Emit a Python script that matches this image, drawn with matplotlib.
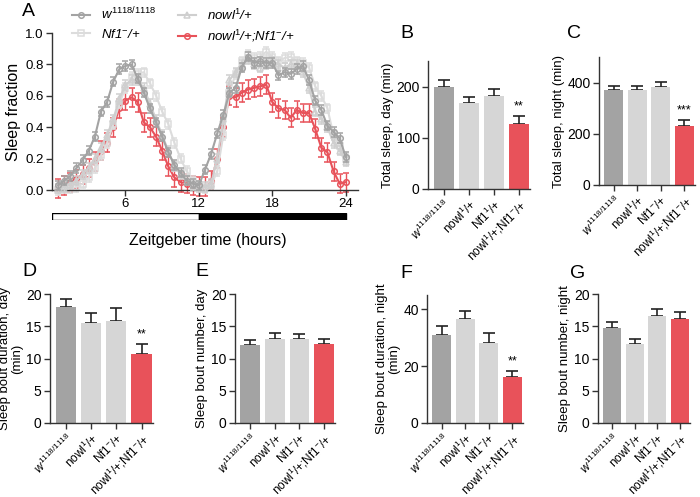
import numpy as np
import matplotlib
matplotlib.use("Agg")
import matplotlib.pyplot as plt

plt.rcParams['font.family'] = ['Liberation Sans', 'DejaVu Sans']
plt.rcParams['mathtext.fontset'] = 'custom'
plt.rcParams['mathtext.rm'] = 'Liberation Sans'
plt.rcParams['mathtext.it'] = 'Liberation Sans:italic'
plt.rcParams['axes.linewidth'] = 1.0

# ---- données du panneau A (fraction de sommeil, pas de 30 min) ----
zt = np.arange(1, 49) * 0.5

w1118 = [0.03, 0.06, 0.09, 0.14, 0.19, 0.25, 0.34, 0.50, 0.56, 0.69, 0.77, 0.79,
         0.80, 0.71, 0.62, 0.52, 0.43, 0.34, 0.24, 0.16, 0.11, 0.06, 0.04, 0.03,
         0.13, 0.23, 0.36, 0.48, 0.62, 0.65, 0.78, 0.85, 0.81, 0.82, 0.81, 0.81,
         0.73, 0.75, 0.74, 0.77, 0.79, 0.70, 0.57, 0.51, 0.41, 0.37, 0.33, 0.21]
nowl = [0.01, 0.02, 0.04, 0.06, 0.10, 0.14, 0.20, 0.27, 0.35, 0.45, 0.58, 0.67,
        0.70, 0.70, 0.65, 0.55, 0.45, 0.35, 0.25, 0.15, 0.10, 0.06, 0.03, 0.02,
        0.02, 0.04, 0.20, 0.45, 0.70, 0.75, 0.80, 0.83, 0.80, 0.78, 0.80, 0.82,
        0.80, 0.78, 0.80, 0.80, 0.75, 0.65, 0.50, 0.45, 0.40, 0.30, 0.25, 0.18]
nf1 = [0.00, 0.01, 0.01, 0.02, 0.04, 0.08, 0.14, 0.22, 0.30, 0.42, 0.55, 0.65,
       0.72, 0.74, 0.75, 0.68, 0.60, 0.50, 0.42, 0.30, 0.20, 0.12, 0.06, 0.03,
       0.01, 0.03, 0.12, 0.35, 0.62, 0.74, 0.82, 0.86, 0.84, 0.85, 0.88, 0.85,
       0.82, 0.84, 0.85, 0.82, 0.81, 0.78, 0.66, 0.60, 0.52, 0.35, 0.28, 0.20]
double = [0.01, 0.03, 0.05, 0.07, 0.10, 0.14, 0.18, 0.25, 0.30, 0.40, 0.52, 0.57,
          0.59, 0.56, 0.43, 0.40, 0.34, 0.25, 0.15, 0.08, 0.05, 0.04, 0.03, 0.02,
          0.02, 0.06, 0.20, 0.40, 0.60, 0.59, 0.62, 0.64, 0.65, 0.66, 0.67, 0.56,
          0.52, 0.51, 0.46, 0.51, 0.49, 0.49, 0.39, 0.27, 0.24, 0.12, 0.04, 0.05]
err_gray = 0.03
err_red = 0.06

ld_starts = [0, 12]
ld_widths = [12, 12]
ld_colors = ['white', 'black']

# ---- données des histogrammes ----
genos = [r'$w^{1118/1118}$', r'nowl$^{1}$/+', r'Nf1$^{-}$/+', r'nowl$^{1}$/+;Nf1$^{-}$/+']
genos_b = [r'$w^{1118/1118}$', r'nowl$^{1}$/+', r'Nf1$^{1}$/+', r'nowl$^{1}$/+;Nf1$^{-}$/+']

sleep_day = [200, 168, 181, 127]
sleep_day_err = [12, 12, 15, 16]
sleep_night = [370, 370, 382, 230]
sleep_night_err = [15, 15, 22, 22]
bout_dur_day = [18.0, 15.5, 15.8, 10.7]
bout_dur_day_err = [1.3, 1.6, 2.0, 1.5]
bout_num_day = [12.1, 13.0, 13.0, 12.3]
bout_num_day_err = [0.7, 1.0, 0.8, 0.8]
bout_dur_night = [31.0, 36.5, 28.0, 16.0]
bout_dur_night_err = [3.0, 3.0, 3.5, 2.3]
bout_num_night = [14.8, 12.3, 16.6, 16.2]
bout_num_night_err = [0.8, 0.7, 1.0, 1.0]

dark = '#a3a3a3'
light = '#d6d6d6'
red = '#e8525a'
bar_colors = [dark, light, light, red]

fig = plt.figure(figsize=(7, 4.97), dpi=100)


def fig_axes(x0, y0, x1, y1):
    # coordonnées en pixels (origine en haut à gauche)
    W, H = 700, 497
    return fig.add_axes([x0 / W, 1 - y1 / H, (x1 - x0) / W, (y1 - y0) / H])


def style(ax, size):
    for s in ['top', 'right']:
        ax.spines[s].set_visible(False)
    for s in ['left', 'bottom']:
        ax.spines[s].set_color('#333333')
    ax.tick_params(direction='out', length=4, width=1, labelsize=size,
                   colors='#333333', labelcolor='black', pad=2)


# ---- panneau A ----
axA = fig_axes(52, 33, 358, 190)
style(axA, 9.5)
series = [
    (w1118, dark, 'o', r'$w^{1118/1118}$', err_gray, 4),
    (nf1, '#dcdcdc', 's', r'Nf1$^{-}$/+', err_gray, 2),
    (nowl, '#cfcfcf', '^', r'nowl$^{1}$/+', err_gray, 3),
    (double, red, 'o', r'nowl$^{1}$/+;Nf1$^{-}$/+', err_red, 1),
]
handles = []
labels = []
for vals, col, mk, lab, e, z in series:
    h = axA.errorbar(zt, vals, yerr=e, color=col, marker=mk, markersize=4,
                     markerfacecolor='none', markeredgewidth=1.1, lw=1.5,
                     elinewidth=1.0, capsize=2, zorder=z, clip_on=False)
    handles.append(h.lines[0])
    labels.append(lab)
axA.set_xlim(0, 25)
axA.set_ylim(0, 1.0)
axA.set_xticks([6, 12, 18, 24])
axA.set_yticks(np.arange(0, 1.01, 0.2))
axA.yaxis.set_major_formatter(matplotlib.ticker.FormatStrFormatter('%.1f'))
axA.set_ylabel('Sleep fraction', fontsize=11.5, labelpad=3)
fig.legend(handles, labels, ncol=2, loc='upper left',
           bbox_to_anchor=(60 / 700, 1.012), frameon=False,
           handlelength=1.4, handletextpad=0.8, columnspacing=1.6,
           labelspacing=0.4, prop={'style': 'italic', 'size': 9.5})
plt.rcParams['mathtext.default'] = 'it'

# barre lumière / obscurité
axLD = fig_axes(52, 213, 358, 220)
axLD.barh(0, ld_widths, left=ld_starts, height=1, color=ld_colors,
          edgecolor='black', linewidth=1)
axLD.set_xlim(0, 25)
axLD.set_ylim(-0.5, 0.5)
axLD.axis('off')
fig.text(208 / 700, 1 - 240 / 497, 'Zeitgeber time (hours)', fontsize=11.5,
         ha='center', va='center')
fig.text(22 / 700, 1 - 12 / 497, 'A', fontsize=14, ha='left', va='center')


# ---- histogrammes ----
def bar_panel(box, vals, errs, ylim, yticks, ylabel, letter, letter_xy,
              labels, star=None):
    ax = fig_axes(*box)
    style(ax, 10)
    x = np.arange(len(vals))
    ax.bar(x, vals, width=0.8, color=bar_colors, zorder=2)
    ax.errorbar(x, vals, yerr=[np.zeros(len(errs)), errs], fmt='none',
                ecolor='#222222', elinewidth=1.2, capsize=4.5, capthick=1.2,
                zorder=1)
    ax.set_xlim(-0.62, 3.45)
    ax.set_ylim(*ylim)
    ax.set_yticks(yticks)
    ax.set_xticks(x)
    ax.set_xticklabels(labels, rotation=45, ha='right', rotation_mode='anchor',
                       fontsize=8.5, fontstyle='normal')
    ax.set_ylabel(ylabel, fontsize=9.5, linespacing=1.05, labelpad=2)
    if star:
        ax.text(3, vals[3] + errs[3] + ylim[1] * 0.03, star, ha='center',
                va='bottom', fontsize=9)
    fig.text(letter_xy[0] / 700, 1 - letter_xy[1] / 497, letter, fontsize=14,
             ha='left', va='center')
    return ax


bar_panel((428, 61, 530, 189), sleep_day, sleep_day_err, (0, 250),
          [0, 100, 200], 'Total sleep, day (min)', 'B', (400, 34), genos_b, '**')
bar_panel((599, 57, 695, 185), sleep_night, sleep_night_err, (0, 500),
          [0, 200, 400], 'Total sleep, night (min)', 'C', (567, 34), genos, '***')
bar_panel((50, 294, 153, 423), bout_dur_day, bout_dur_day_err, (0, 20),
          [0, 5, 10, 15, 20], 'Sleep bout duration, day\n(min)', 'D', (22, 272),
          genos, '**')
bar_panel((235, 294, 335, 423), bout_num_day, bout_num_day_err, (0, 20),
          [0, 5, 10, 15, 20], 'Sleep bout number, day', 'E', (195, 272), genos)
bar_panel((427, 295, 523, 423), bout_dur_night, bout_dur_night_err, (0, 45),
          [0, 20, 40], 'Sleep bout duration, night\n(min)', 'F', (400, 273),
          genos, '**')
bar_panel((598, 294, 690, 423), bout_num_night, bout_num_night_err, (0, 20),
          [0, 5, 10, 15, 20], 'Sleep bout number, night', 'G', (570, 273), genos)

fig.savefig('out.png', dpi=100)
